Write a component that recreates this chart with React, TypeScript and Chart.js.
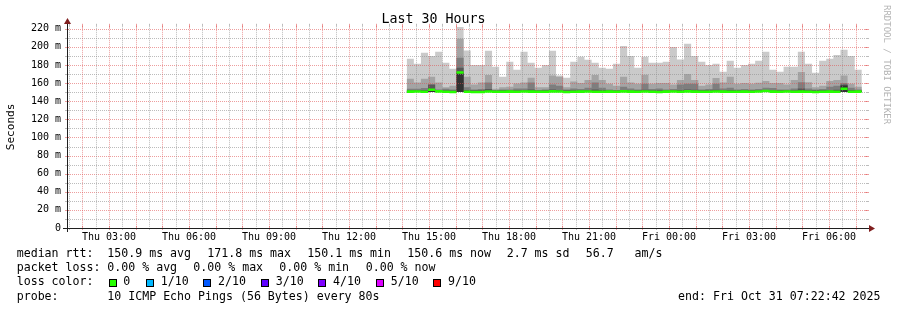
import React, { useEffect, useRef } from 'react';
import { Chart, registerables } from 'chart.js';

Chart.register(...registerables);

const MONO = "'DejaVu Sans Mono', monospace";

// ---------------- data ----------------
const TITLE = 'Last 30 Hours';
const Y_TITLE = 'Seconds';
const WATERMARK = 'RRDTOOL / TOBI OETIKER';

// x axis: hours since Thu 00:00
const X_MIN_HOUR = 1.426;
const X_MAX_HOUR = 31.426;
const X_TICK_HOURS = [3, 6, 9, 12, 15, 18, 21, 24, 27, 30];
const X_TICK_LABELS = [
  'Thu 03:00', 'Thu 06:00', 'Thu 09:00', 'Thu 12:00', 'Thu 15:00',
  'Thu 18:00', 'Thu 21:00', 'Fri 00:00', 'Fri 03:00', 'Fri 06:00',
];
const X_MINOR_GRID_HOURS = 0.5;
const X_MAJOR_GRID_HOURS = 1;

// y axis: milliseconds
const Y_TOP_MS = 223.3;
const Y_TICKS_MS = [0, 20, 40, 60, 80, 100, 120, 140, 160, 180, 200, 220];
const Y_TICK_LABELS = ['0', '20 m', '40 m', '60 m', '80 m', '100 m', '120 m', '140 m', '160 m', '180 m', '200 m', '220 m'];
const Y_MINOR_GRID_MS = 10;
const Y_MAJOR_GRID_MS = 20;

// smoke columns (16 minute steps)
const DATA_START_HOUR = 14.165;
const STEP_HOURS = 16 / 60;
const MIN_RTT_MS = 150.1;

const SMOKE_P10 = [
  186.8, 181.3, 193.5, 190.0, 194.6, 182.4, 175.8, 222.0,
  196.0, 180.0, 180.0, 195.7, 178.0, 167.0, 183.5, 174.7,
  194.6, 182.4, 177.0, 180.0, 195.7, 168.4, 165.8, 183.5,
  189.0, 185.7, 182.4, 177.0, 175.8, 181.3, 201.0, 190.0,
  177.0, 189.0, 182.4, 182.4, 183.5, 200.0, 186.0, 203.4,
  190.0, 183.5, 180.0, 181.3, 172.5, 184.6, 177.0, 180.0,
  181.3, 184.6, 194.6, 174.7, 172.5, 178.0, 178.0, 194.6,
  181.3, 171.4, 184.6, 186.8, 191.0, 196.8, 190.0, 174.7,
];
const SMOKE_P9 = [
  164.7, 160.8, 164.7, 167.0, 160.8, 155.5, 157.0, 209.0,
  167.0, 158.4, 160.8, 169.0, 153.7, 155.5, 156.0, 159.5,
  160.8, 166.0, 155.5, 155.5, 168.4, 167.0, 155.5, 161.9,
  160.0, 163.5, 169.0, 163.5, 159.2, 157.0, 167.0, 160.8,
  159.2, 169.3, 159.2, 160.0, 160.0, 158.4, 163.5, 170.0,
  163.5, 157.0, 158.4, 165.6, 160.8, 167.0, 159.2, 160.0,
  159.2, 160.3, 162.3, 160.0, 160.0, 158.4, 163.5, 172.4,
  161.0, 155.5, 157.0, 162.3, 163.5, 168.4, 159.2, 156.0,
];
const SMOKE_P8 = [
  153.7, 153.7, 154.5, 158.4, 153.0, 153.7, 153.0, 188.0,
  155.5, 153.0, 153.5, 160.8, 152.5, 153.0, 153.0, 154.0,
  154.0, 160.8, 152.5, 153.0, 158.4, 157.0, 153.0, 154.0,
  153.5, 155.0, 160.8, 155.0, 153.0, 152.5, 156.0, 154.0,
  153.0, 159.2, 153.5, 154.0, 153.0, 153.5, 158.4, 159.2,
  159.2, 153.0, 153.5, 159.2, 154.0, 155.0, 153.0, 153.5,
  153.0, 153.5, 155.0, 154.5, 153.0, 153.0, 154.0, 161.0,
  154.0, 153.0, 153.5, 156.0, 157.0, 160.0, 155.0, 153.0,
];
const SMOKE_P7 = [
  152.2, 152.0, 152.3, 158.4, 152.0, 152.2, 151.8, 177.0,
  152.5, 152.0, 152.0, 153.5, 151.8, 152.0, 152.0, 152.2,
  152.0, 153.0, 151.8, 152.0, 153.0, 152.5, 152.0, 152.2,
  152.0, 152.5, 153.0, 152.5, 152.0, 151.8, 152.5, 152.2,
  152.0, 152.8, 152.0, 152.2, 152.0, 152.0, 152.5, 153.0,
  152.8, 152.0, 152.0, 152.8, 152.2, 152.5, 152.0, 152.2,
  152.0, 152.2, 152.5, 152.2, 152.0, 152.0, 152.2, 154.0,
  152.2, 152.0, 152.2, 152.5, 152.8, 158.4, 152.5, 152.0,
];
const SMOKE_P6 = [
  151.3, 151.2, 151.3, 153.5, 151.2, 151.2, 151.0, 171.4,
  151.3, 151.0, 151.0, 151.8, 151.0, 151.2, 151.2, 151.2,
  151.2, 151.5, 151.0, 151.2, 151.5, 151.3, 151.0, 151.2,
  151.2, 151.3, 151.5, 151.3, 151.2, 151.0, 151.3, 151.2,
  151.2, 151.5, 151.2, 151.2, 151.2, 151.3, 151.3, 151.5,
  151.5, 151.2, 151.2, 151.5, 151.2, 151.3, 151.2, 151.2,
  151.2, 151.2, 151.3, 151.2, 151.2, 151.2, 151.2, 152.0,
  151.2, 151.0, 151.2, 151.3, 151.5, 157.5, 151.3, 151.2,
];
const MEDIAN_MS = [
  150.6, 150.8, 150.5, 152.6, 150.9, 150.4, 150.2, 171.8,
  150.5, 150.3, 150.3, 150.7, 150.4, 150.5, 150.6, 150.5,
  150.8, 150.6, 150.4, 150.5, 150.9, 150.7, 150.3, 150.5,
  150.6, 150.8, 150.5, 150.4, 150.6, 150.5, 150.9, 150.6,
  150.5, 150.7, 150.4, 150.3, 150.6, 150.8, 150.5, 150.9,
  150.6, 150.4, 150.5, 150.7, 150.6, 150.5, 150.4, 150.6,
  150.5, 150.8, 151.2, 150.6, 150.5, 150.7, 150.4, 150.6,
  150.5, 150.3, 150.4, 150.6, 150.5, 153.7, 150.4, 150.6,
];
const MEDIAN_HALF_BAND_MS = 1.4;

// legend texts
const RTT_LABEL = 'median rtt:';
const RTT_STATS = ['150.9 ms avg', '171.8 ms max', '150.1 ms min', '150.6 ms now', '2.7 ms sd', '56.7   am/s'];
const LOSS_LABEL = 'packet loss:';
const LOSS_STATS = ['0.00 % avg', '0.00 % max', '0.00 % min', '0.00 % now'];
const LOSS_COLOR_LABEL = 'loss color:';
const LOSS_LEVELS = ['0', '1/10', '2/10', '3/10', '4/10', '5/10', '9/10'];
const LOSS_COLORS = ['#26ff00', '#00b8ff', '#0059ff', '#5e00ff', '#7e00ff', '#dd00ff', '#ff0000'];
const PROBE_LABEL = 'probe:';
const PROBE_TEXT = '10 ICMP Echo Pings (56 Bytes) every 80s';
const END_TEXT = 'end: Fri Oct 31 07:22:42 2025';

// ---------------- styles / layout ----------------
const SMOKE_COLORS = ['#cacaca', '#a4a4a4', '#7e7e7e', '#585858', '#323232'];
const MEDIAN_COLOR = '#26ff00';
const GRID_MINOR = 'rgba(143,143,143,0.6)';
const GRID_MAJOR = 'rgba(222,79,79,0.55)';
const AXIS_COLOR = '#1f1f1f';
const ARROW_COLOR = '#801f1f';

const RTT_X = [107.3, 207.3, 307.3, 407.3, 506.7, 585.7];
const LOSS_X = [107.3, 193.3, 279.3, 365.7];
const LOSS_BOX_X = [108.5, 146, 203.3, 261, 318.3, 376, 433.3];
const LINE_TOPS = [248.4, 262.0, 276.2, 290.5];

function stepSeries(values: number[], offset = 0) {
  const pts = values.map((v, i) => ({ x: DATA_START_HOUR + i * STEP_HOURS, y: v + offset }));
  pts.push({ x: DATA_START_HOUR + values.length * STEP_HOURS, y: values[values.length - 1] + offset });
  return pts;
}

const rrdPlugin = {
  id: 'rrdGrid',
  beforeDatasetDraw(chart: any, args: any) {
    if (args.index !== 1) return;
    const { ctx, chartArea: a, scales } = chart;
    const xs = scales.x;
    const ys = scales.y;
    ctx.save();
    ctx.lineWidth = 1;
    // horizontal grid
    for (let v = Y_MINOR_GRID_MS; v <= Y_TOP_MS; v += Y_MINOR_GRID_MS) {
      const major = v % Y_MAJOR_GRID_MS === 0;
      const py = Math.round(ys.getPixelForValue(v)) + 0.5;
      ctx.strokeStyle = major ? GRID_MAJOR : GRID_MINOR;
      ctx.setLineDash([1, 1]);
      ctx.beginPath();
      ctx.moveTo(a.left + 1, py);
      ctx.lineTo(a.right, py);
      ctx.stroke();
      ctx.setLineDash([]);
      ctx.beginPath();
      ctx.moveTo(a.left - 2, py);
      ctx.lineTo(major ? a.left + 2 : a.left, py);
      ctx.moveTo(major ? a.right - 2 : a.right, py);
      ctx.lineTo(a.right + 2, py);
      ctx.stroke();
    }
    // vertical grid
    const first = Math.ceil(X_MIN_HOUR / X_MINOR_GRID_HOURS) * X_MINOR_GRID_HOURS;
    for (let h = first; h <= X_MAX_HOUR; h += X_MINOR_GRID_HOURS) {
      const major = Math.abs(h / X_MAJOR_GRID_HOURS - Math.round(h / X_MAJOR_GRID_HOURS)) < 1e-6;
      const px = Math.round(xs.getPixelForValue(h)) + 0.5;
      ctx.strokeStyle = major ? GRID_MAJOR : GRID_MINOR;
      ctx.setLineDash([1, 1]);
      ctx.beginPath();
      ctx.moveTo(px, a.top);
      ctx.lineTo(px, a.bottom - 1);
      ctx.stroke();
      ctx.setLineDash([]);
      ctx.beginPath();
      ctx.moveTo(px, a.top - 2);
      ctx.lineTo(px, major ? a.top + 2 : a.top);
      ctx.moveTo(px, major ? a.bottom - 2 : a.bottom);
      ctx.lineTo(px, a.bottom + 2);
      ctx.stroke();
    }
    ctx.restore();
  },
  afterDraw(chart: any) {
    const { ctx, chartArea: a } = chart;
    const L = Math.round(a.left);
    const B = Math.round(a.bottom);
    const R = Math.round(a.right);
    const T = Math.round(a.top);
    ctx.save();
    ctx.strokeStyle = AXIS_COLOR;
    ctx.lineWidth = 1;
    ctx.beginPath();
    ctx.moveTo(L - 4, B + 0.5);
    ctx.lineTo(R + 4, B + 0.5);
    ctx.moveTo(L + 0.5, B + 4);
    ctx.lineTo(L + 0.5, T - 4);
    ctx.stroke();
    ctx.fillStyle = ARROW_COLOR;
    ctx.beginPath();
    ctx.moveTo(R + 2, B - 3);
    ctx.lineTo(R + 2, B + 4);
    ctx.lineTo(R + 8, B + 0.5);
    ctx.closePath();
    ctx.fill();
    ctx.beginPath();
    ctx.moveTo(L - 3, T - 2);
    ctx.lineTo(L + 4, T - 2);
    ctx.lineTo(L + 0.5, T - 8);
    ctx.closePath();
    ctx.fill();
    ctx.restore();
  },
};

function bandDataset(values: number[], color: string) {
  return {
    data: stepSeries(values),
    stepped: true,
    borderColor: 'rgba(0,0,0,0)',
    borderWidth: 0,
    backgroundColor: color,
    pointRadius: 0,
    fill: { value: MIN_RTT_MS },
  };
}

export default function App() {
  const ref = useRef<HTMLCanvasElement>(null);

  useEffect(() => {
    const canvas = ref.current;
    if (!canvas) return;
    const chart = new Chart(canvas, {
      type: 'line',
      data: {
        datasets: [
          {
            data: stepSeries(MEDIAN_MS, MEDIAN_HALF_BAND_MS),
            stepped: true,
            borderColor: 'rgba(0,0,0,0)',
            borderWidth: 0,
            backgroundColor: MEDIAN_COLOR,
            pointRadius: 0,
            fill: '+1',
          },
          {
            data: stepSeries(MEDIAN_MS, -MEDIAN_HALF_BAND_MS),
            stepped: true,
            borderColor: 'rgba(0,0,0,0)',
            borderWidth: 0,
            pointRadius: 0,
            fill: false,
          },
          bandDataset(SMOKE_P6, SMOKE_COLORS[4]),
          bandDataset(SMOKE_P7, SMOKE_COLORS[3]),
          bandDataset(SMOKE_P8, SMOKE_COLORS[2]),
          bandDataset(SMOKE_P9, SMOKE_COLORS[1]),
          bandDataset(SMOKE_P10, SMOKE_COLORS[0]),
        ] as any,
      },
      options: {
        responsive: false,
        animation: false,
        devicePixelRatio: 1,
        events: [],
        layout: { padding: { left: 0, right: 30, top: 0, bottom: 0 } },
        plugins: {
          legend: { display: false },
          tooltip: { enabled: false },
          title: {
            display: true,
            text: TITLE,
            color: '#000',
            font: { family: MONO, size: 13.3, weight: 'normal', lineHeight: 1 },
            padding: { top: 12.5, bottom: 0 },
          },
        },
        scales: {
          x: {
            type: 'linear',
            min: X_MIN_HOUR,
            max: X_MAX_HOUR,
            grid: { display: false, drawTicks: false },
            border: { display: false },
            afterBuildTicks: (s: any) => {
              s.ticks = X_TICK_HOURS.map((v) => ({ value: v }));
            },
            afterFit: (s: any) => {
              s.height = 82;
            },
            ticks: {
              autoSkip: false,
              maxRotation: 0,
              minRotation: 0,
              padding: 3,
              color: '#000',
              font: { family: MONO, size: 10 },
              callback: (v: any) => X_TICK_LABELS[X_TICK_HOURS.indexOf(Number(v))] ?? '',
            },
          },
          y: {
            type: 'linear',
            min: 0,
            max: Y_TOP_MS,
            grid: { display: false, drawTicks: false },
            border: { display: false },
            afterBuildTicks: (s: any) => {
              s.ticks = Y_TICKS_MS.map((v) => ({ value: v }));
            },
            afterFit: (s: any) => {
              s.width = 67;
            },
            ticks: {
              autoSkip: false,
              padding: 6,
              color: '#000',
              font: { family: MONO, size: 10 },
              callback: (v: any) => Y_TICK_LABELS[Y_TICKS_MS.indexOf(Number(v))] ?? '',
            },
            title: {
              display: true,
              text: Y_TITLE,
              color: '#000',
              font: { family: MONO, size: 11.1 },
              padding: { top: 4, bottom: 0 },
            },
          },
        },
      } as any,
      plugins: [rrdPlugin as any],
    });
    return () => chart.destroy();
  }, []);

  const txt = (left: number, top: number): React.CSSProperties => ({
    position: 'absolute',
    left,
    top,
    fontFamily: MONO,
    fontSize: 11.6,
    lineHeight: '11.6px',
    whiteSpace: 'pre',
    color: '#000',
  });

  return (
    <div style={{ position: 'absolute', left: 0, top: 0, width: 897, height: 310, background: '#fff', overflow: 'hidden' }}>
      <canvas ref={ref} width={897} height={310} style={{ position: 'absolute', left: 0, top: 0, width: 897, height: 310 }} />
      <div
        style={{
          position: 'absolute',
          left: 882,
          top: 5,
          writingMode: 'vertical-rl',
          fontFamily: MONO,
          fontSize: 9,
          lineHeight: '9px',
          color: '#b4b4b4',
          whiteSpace: 'pre',
        }}
      >
        {WATERMARK}
      </div>

      <div style={txt(16.7, LINE_TOPS[0])}>{RTT_LABEL}</div>
      {RTT_STATS.map((s, i) => (
        <div key={'r' + i} style={txt(RTT_X[i], LINE_TOPS[0])}>{s}</div>
      ))}

      <div style={txt(16.7, LINE_TOPS[1])}>{LOSS_LABEL}</div>
      {LOSS_STATS.map((s, i) => (
        <div key={'l' + i} style={txt(LOSS_X[i], LINE_TOPS[1])}>{s}</div>
      ))}

      <div style={txt(16.7, LINE_TOPS[2])}>{LOSS_COLOR_LABEL}</div>
      {LOSS_LEVELS.map((s, i) => (
        <React.Fragment key={'c' + i}>
          <div
            style={{
              position: 'absolute',
              left: LOSS_BOX_X[i],
              top: 279,
              width: 8,
              height: 8,
              boxSizing: 'border-box',
              border: '1px solid #000',
              background: LOSS_COLORS[i],
            }}
          />
          <div style={txt(LOSS_BOX_X[i] + 14.7, LINE_TOPS[2])}>{s}</div>
        </React.Fragment>
      ))}

      <div style={txt(16.7, LINE_TOPS[3])}>{PROBE_LABEL}</div>
      <div style={txt(107.3, LINE_TOPS[3])}>{PROBE_TEXT}</div>
      <div style={{ ...txt(0, LINE_TOPS[3]), left: undefined, right: 897 - 880.5 }}>{END_TEXT}</div>
    </div>
  );
}
